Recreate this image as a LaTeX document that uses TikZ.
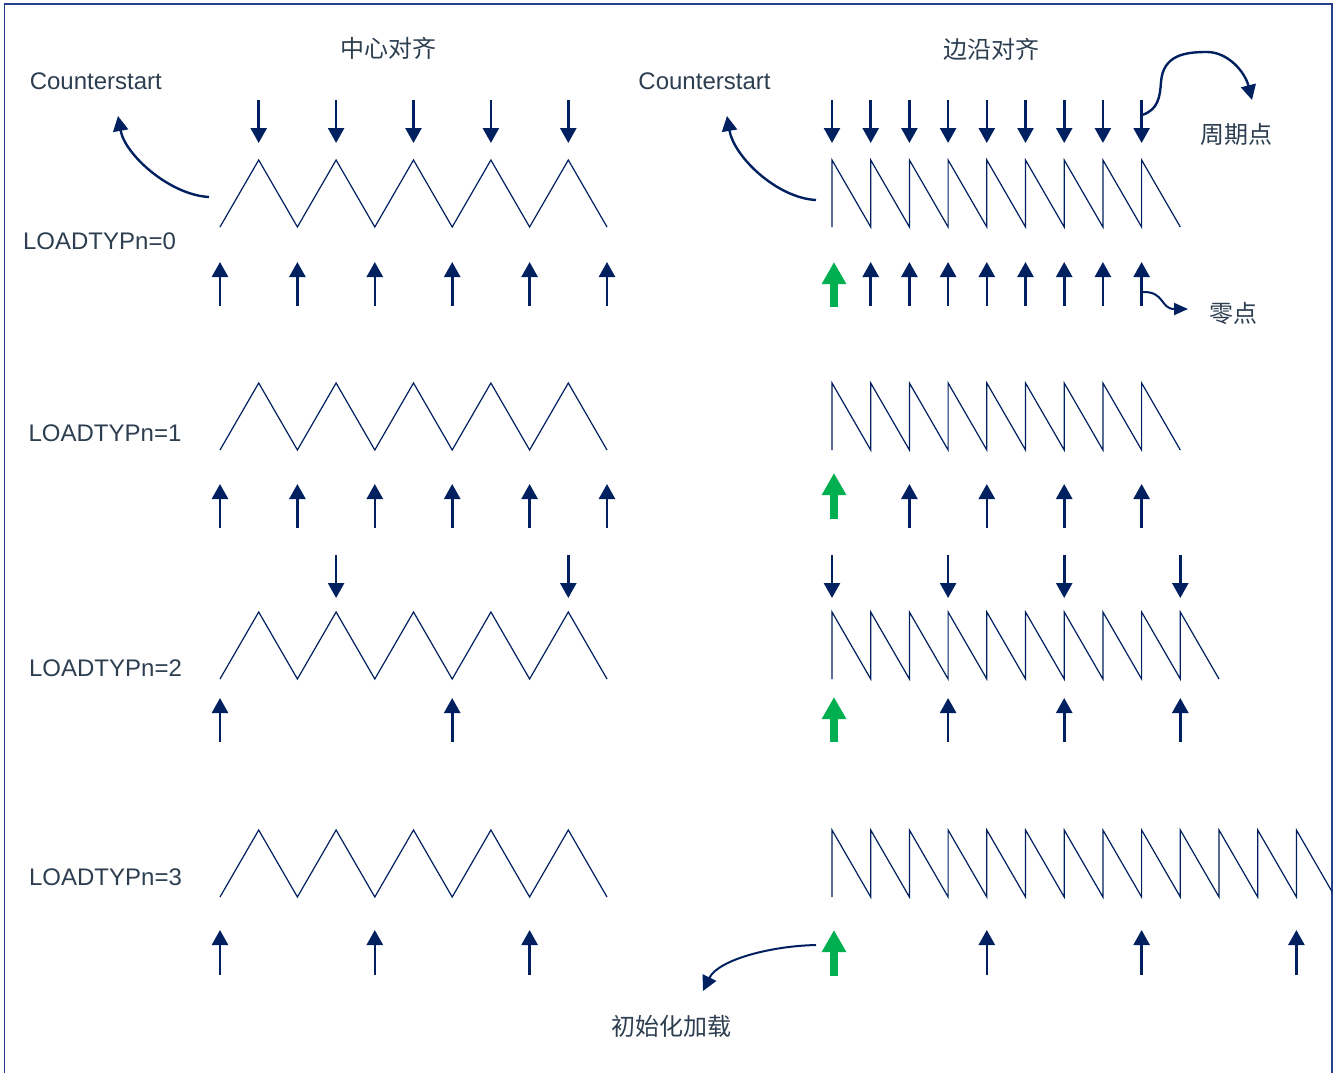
\documentclass[tikz,border=0pt]{standalone}
\usepackage{fontspec}
\setmainfont{Liberation Sans}
\newfontfamily\cjk{Noto Sans CJK SC}
\usetikzlibrary{arrows.meta}
\definecolor{navy}{RGB}{0,32,96}
\definecolor{loadgreen}{RGB}{0,176,80}
\definecolor{textcol}{RGB}{44,62,80}
\definecolor{framecol}{RGB}{36,64,140}

\begin{document}
\begin{tikzpicture}[x=1pt,y=-1pt,
    wave/.style={navy, line width=1.2pt},
    evt/.style={navy, line width=2.6pt, -{Triangle[width=16pt,length=15pt]}},
    ldarrow/.style={loadgreen, line width=8pt, -{Triangle[width=23pt,length=22pt]}},
    note/.style={navy, line width=2.4pt, -{Triangle[width=15pt,length=15pt]}},
    lbl/.style={text=textcol, font=\fontsize{24}{28}\selectfont, inner sep=0pt, anchor=base},
    cjklbl/.style={lbl, font=\fontsize{24}{28}\selectfont\cjk}]
    % Define dimensions (1 unit = 1 px of the picture)
    \def\h{38.7} % Half period of the triangle = period of the sawtooth
    \def\amp{67} % Height of a wave
    \def\lx{220} % Start of the triangle waves
    \def\rx{832} % Start of the sawtooth waves

    \useasboundingbox (0,0) rectangle (1338,1073);

    % --- Frame ---
    \draw[framecol, line width=1.5pt] (4.5,1073) -- (4.5,4) -- (1332,4) -- (1332,1073);

    % --- Headings and labels ---
    \node[cjklbl] (center) at (388.3,58) {中心对齐};
    \node[cjklbl] (edge) at (991,59) {边沿对齐};
    \node[lbl] (cntl) at (95.8,89) {Counterstart};
    \node[lbl] (cntr) at (704.5,89) {Counterstart};
    \node[cjklbl] (period) at (1236,143.5) {周期点};
    \node[cjklbl] (zero) at (1233.5,322) {零点};
    \node[cjklbl] (init) at (671.7,1035) {初始化加载};

    \node[lbl] (type0) at (99.5,249) {LOADTYPn=0};
    \node[lbl] (type1) at (105,441) {LOADTYPn=1};
    \node[lbl] (type2) at (105.5,676) {LOADTYPn=2};
    \node[lbl] (type3) at (105.5,885) {LOADTYPn=3};

    % --- Counter waves ---
    % Triangle waves (top of each row given)
    \foreach \t in {160,383,612,830} {
        \draw[wave] (\lx,\t+\amp) \foreach \k in {1,...,5} { -- ++(\h,-\amp) -- ++(\h,\amp) };
    }

    % Sawtooth waves (top of the row / number of teeth)
    \begin{scope}
        \clip (0,0) rectangle (1332,1073);
        \foreach \t/\n in {160/9,383/9,612/10,830/13} {
            \draw[wave] (\rx,\t+\amp) \foreach \k in {1,...,\n} { -- ++(0,-\amp) -- ++(\h,\amp) };
        }
    \end{scope}

    % --- LOADTYPn=0 ---
    \foreach \k in {1,3,...,9} \draw[evt] (\lx+\k*\h,100) -- (\lx+\k*\h,143); % Period points
    \foreach \k in {0,2,...,10} \draw[evt] (\lx+\k*\h,306) -- (\lx+\k*\h,262); % Zero points
    \foreach \k in {0,...,8} \draw[evt] (\rx+\k*\h,100) -- (\rx+\k*\h,143);
    \foreach \k in {1,...,8} \draw[evt] (\rx+\k*\h,306) -- (\rx+\k*\h,262);
    \draw[ldarrow] (\rx+2,307) -- (\rx+2,262);

    % --- LOADTYPn=1 ---
    \foreach \k in {0,2,...,10} \draw[evt] (\lx+\k*\h,528) -- (\lx+\k*\h,484);
    \foreach \k in {2,4,6,8} \draw[evt] (\rx+\k*\h,528) -- (\rx+\k*\h,484);
    \draw[ldarrow] (\rx+2,519) -- (\rx+2,473);

    % --- LOADTYPn=2 ---
    \foreach \k in {3,9} \draw[evt] (\lx+\k*\h,555) -- (\lx+\k*\h,598);
    \foreach \k in {0,6} \draw[evt] (\lx+\k*\h,742) -- (\lx+\k*\h,698);
    \foreach \k in {0,3,6,9} \draw[evt] (\rx+\k*\h,555) -- (\rx+\k*\h,598);
    \foreach \k in {3,6,9} \draw[evt] (\rx+\k*\h,742) -- (\rx+\k*\h,698);
    \draw[ldarrow] (\rx+2,742) -- (\rx+2,697);

    % --- LOADTYPn=3 ---
    \foreach \k in {0,4,8} \draw[evt] (\lx+\k*\h,975) -- (\lx+\k*\h,930);
    \foreach \k in {4,8,12} \draw[evt] (\rx+\k*\h,975) -- (\rx+\k*\h,930);
    \draw[ldarrow] (\rx+2,976) -- (\rx+2,930);

    % --- Pointers to the labels ---
    \coordinate (csl) at (209,197);
    \coordinate (csltip) at (118,116);
    \draw[note] (csl) .. controls (170,195) and (125,155) .. (csltip);

    \coordinate (csr) at (816,200);
    \coordinate (csrtip) at (727,116);
    \draw[note] (csr) .. controls (777,198) and (734,157) .. (csrtip);

    \coordinate (prd) at (1142,115);
    \coordinate (prdtip) at (1252,100);
    \draw[note] (prd) .. controls (1158,110) and (1160,97) .. (1161,82)
        .. controls (1163,55) and (1185,52) .. (1207,52)
        .. controls (1228,52) and (1245,72) .. (prdtip);

    \coordinate (zr) at (1142,292);
    \coordinate (zrtip) at (1188,309);
    \draw[note, line width=2pt, -{Triangle[width=12pt,length=14pt]}] (zr) .. controls (1165,291) and (1160,309) .. (zrtip);

    \coordinate (ld) at (816,945);
    \coordinate (ldtip) at (703,991);
    \draw[note, line width=2pt] (ld) .. controls (770,946) and (718,960) .. (ldtip);

\end{tikzpicture}
\end{document}
